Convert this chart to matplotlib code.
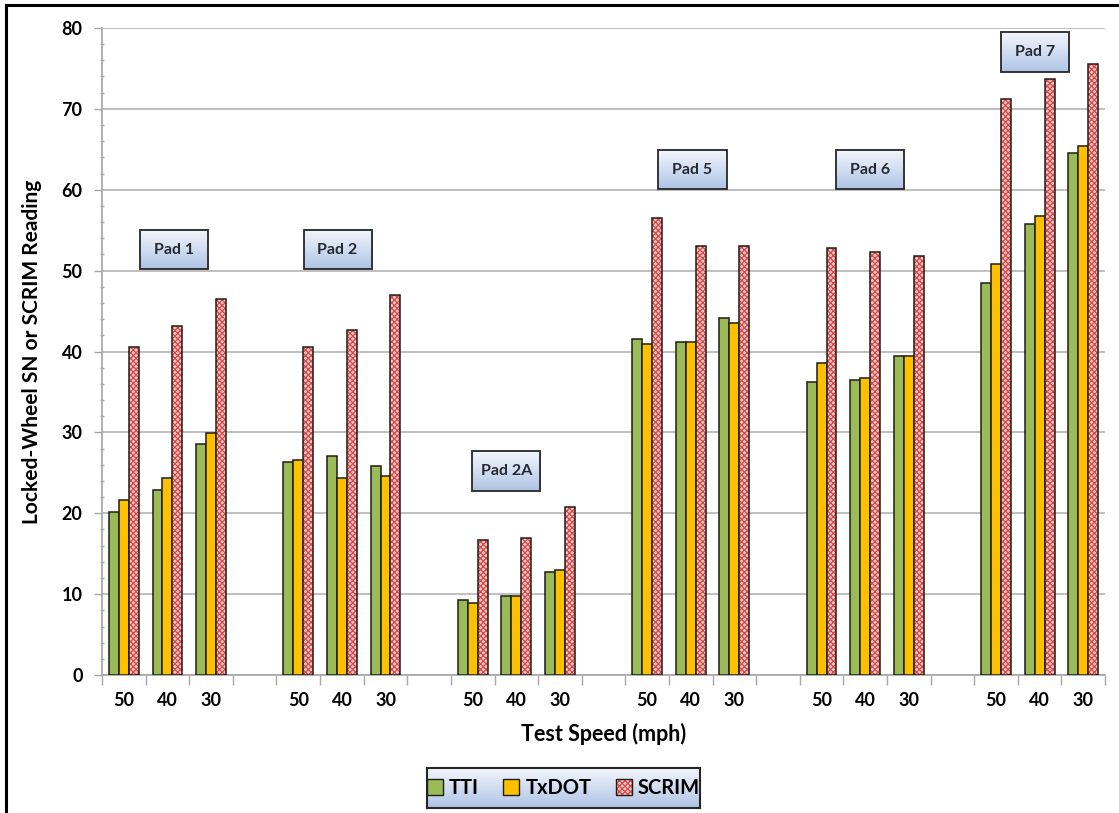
import matplotlib
matplotlib.use('Agg')
import numpy as np
import matplotlib.pyplot as plt
from matplotlib.patches import Rectangle
from matplotlib.lines import Line2D

plt.rcParams['font.family'] = ['Lato', 'DejaVu Sans']
plt.rcParams['hatch.linewidth'] = 0.9

#--- data ---#
pads = ['Pad 1', 'Pad 2', 'Pad 2A', 'Pad 5', 'Pad 6', 'Pad 7']
speeds = ['50', '40', '30']
tti = [20.2, 22.9, 28.6,  26.3, 27.1, 25.8,  9.3, 9.8, 12.8,
       41.6, 41.2, 44.2,  36.2, 36.5, 39.4,  48.5, 55.8, 64.5]
txdot = [21.7, 24.4, 29.9,  26.6, 24.3, 24.6,  8.9, 9.8, 13.0,
         40.9, 41.2, 43.5,  38.6, 36.7, 39.4,  50.8, 56.7, 65.4]
scrim = [40.6, 43.2, 46.5,  40.5, 42.6, 47.0,  16.7, 16.9, 20.8,
         56.5, 53.0, 53.1,  52.8, 52.3, 51.8,  71.2, 73.7, 75.5]

c_tti = '#9bbb59'
c_txdot = '#ffc000'
c_scrim_bg = '#f6c8c8'
c_scrim_hatch = '#d94848'
c_edge = '#1e1e14'

#--- layout ---#
fig = plt.figure(figsize=(11.19, 8.13), dpi=100)
ax = fig.add_axes([0.0912, 0.1697, 0.8963, 0.7959])

n_cat = len(pads)*4 - 1          # blank category between pads
pos = np.array([g*4 + s for g in range(len(pads)) for s in range(len(speeds))])
w = 0.228

ax.bar(pos - w, tti, w, color=c_tti, edgecolor=c_edge, linewidth=1.1, zorder=3)
ax.bar(pos, txdot, w, color=c_txdot, edgecolor=c_edge, linewidth=1.1, zorder=3)
# hatched fill first, then black outline on top
ax.bar(pos + w, scrim, w, color=c_scrim_bg, hatch='xxxxxx', edgecolor=c_scrim_hatch,
       linewidth=0, zorder=3)
ax.bar(pos + w, scrim, w, fill=False, edgecolor=c_edge, linewidth=1.1, zorder=3)

#--- label boxes with gradient ---#
grad = np.linspace(0, 1, 64).reshape(-1, 1)
box_cmap = matplotlib.colors.LinearSegmentedColormap.from_list('bx', ['#f4f7fc', '#aec4e6'])
def pad_box(xc, yc, txt, bw=1.56, bh=4.9):
    ax.imshow(grad, cmap=box_cmap, aspect='auto', origin='upper',
              extent=(xc - bw/2, xc + bw/2, yc - bh/2, yc + bh/2), zorder=4)
    ax.add_patch(Rectangle((xc - bw/2, yc - bh/2), bw, bh, fill=False,
                           edgecolor='#262626', linewidth=1.3, zorder=5))
    ax.text(xc, yc, txt, ha='center', va='center', fontsize=11.5, fontweight='bold',
            color='#262a33', zorder=6)

box_x = [1.15, 4.90, 8.77, 13.04, 17.12, 20.9]
box_y = [52.6, 52.6, 25.2, 62.5, 62.5, 77.0]
for xc, yc, p in zip(box_x, box_y, pads):
    pad_box(xc, yc, p)

#--- axes styling ---#
ax.set_xlim(-0.5, n_cat - 0.5)
ax.set_ylim(0, 80)
ax.set_yticks(np.arange(0, 81, 10))
ax.set_yticks(np.arange(0, 81, 2), minor=True)
ax.grid(axis='y', which='major', color='#b4b4b4', linewidth=1.2, zorder=0)
for s in ['top', 'right']:
    ax.spines[s].set_visible(False)
for s in ['left', 'bottom']:
    ax.spines[s].set_color('#a6a6a6')
    ax.spines[s].set_linewidth(1.2)

ax.set_xticks(np.arange(-0.5, n_cat, 1))
ax.set_xticklabels([])
ax.set_xticks(pos, minor=True)
ax.set_xticklabels(speeds*len(pads), minor=True)
ax.tick_params(axis='x', which='major', length=7, color='#a6a6a6', width=1)
ax.tick_params(axis='x', which='minor', length=0, pad=12, labelsize=13)
ax.tick_params(axis='y', which='major', length=6, color='#a6a6a6', width=1, labelsize=13, pad=8)
ax.tick_params(axis='y', which='minor', length=3, color='#a6a6a6', width=1, direction='inout')
for lab in ax.get_xticklabels(minor=True) + ax.get_yticklabels():
    lab.set_fontweight('bold')

ax.set_xlabel('Test Speed (mph)', fontsize=15.5, fontweight='bold', labelpad=10)
ax.set_ylabel('Locked-Wheel SN or SCRIM Reading', fontsize=15, fontweight='bold', labelpad=14)

#--- legend with gradient frame ---#
lax = fig.add_axes([427/1119, 1 - 808/813, 273/1119, 40/813])
lax.imshow(grad, cmap=box_cmap, aspect='auto', extent=(0, 1, 0, 1))
lax.set_xticks([]); lax.set_yticks([])
for s in lax.spines.values():
    s.set_color('#262626'); s.set_linewidth(1.5)
h_scrim = (Rectangle((0, 0), 1, 1, facecolor=c_scrim_bg, hatch='xxxxxx',
                     edgecolor=c_scrim_hatch, linewidth=0),
           Rectangle((0, 0), 1, 1, fill=False, edgecolor=c_edge))
handles = [Rectangle((0, 0), 1, 1, facecolor=c_tti, edgecolor=c_edge),
           Rectangle((0, 0), 1, 1, facecolor=c_txdot, edgecolor=c_edge),
           h_scrim]
leg = lax.legend(handles, ['TTI', 'TxDOT', 'SCRIM'], loc='center', ncol=3, frameon=False,
                 handlelength=0.8, handleheight=0.8, handletextpad=0.3, columnspacing=1.2,
                 prop={'weight': 'bold', 'size': 14.5})

#--- outer frame (left and top) ---#
fig.add_artist(Line2D([6/1119, 6/1119], [0, 1 - 5/813], color='black', linewidth=2.2))
fig.add_artist(Line2D([6/1119, 1], [1 - 5/813, 1 - 5/813], color='black', linewidth=2.2))

plt.savefig('out.png', dpi=100)
